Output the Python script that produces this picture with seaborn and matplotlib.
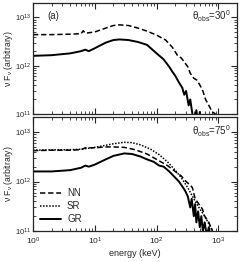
import numpy as np
import pandas as pd
import matplotlib
matplotlib.use("Agg")
import matplotlib.pyplot as plt
import seaborn as sns

# --- spectra (energy in keV, nuFnu in units of 1e12) ---
top_nn_e = [1, 2, 4, 6, 6.5, 7, 10, 15, 20, 25, 35, 50, 70, 100, 140, 180, 220, 250,
            280, 320, 350, 400, 450, 500, 560, 620, 700, 800, 900]
top_nn_f = [4.4, 4.4, 4.5, 4.6, 5.3, 4.7, 5.0, 6.0, 6.8, 7.0, 6.8, 6.0, 5.2, 4.3, 3.4,
            2.4, 1.6, 1.45, 1.2, 0.95, 0.7, 0.55, 0.5, 0.4, 0.3, 0.2, 0.15, 0.11, 0.1]

top_gr_e = [1, 2, 4, 6, 7, 8, 10, 15, 20, 25, 35, 50, 70, 100, 130, 160, 180, 200, 230,
            260, 280, 300, 330, 350, 380, 410, 440, 470, 500, 520]
top_gr_f = [1.6, 1.65, 1.8, 2.0, 2.15, 2.0, 2.3, 3.0, 3.4, 3.5, 3.4, 3.1, 2.7, 1.8, 1.35,
            0.95, 0.75, 0.62, 0.45, 0.35, 0.25, 0.3, 0.15, 0.2, 0.1, 0.07, 0.12, 0.06,
            0.11, 0.05]

bot_nn_e = [1, 2, 4, 6, 7, 10, 15, 20, 30, 45, 70, 100, 150, 200, 250, 300, 350, 380,
            420, 500, 550, 600, 700, 800]
bot_nn_f = [4.2, 4.3, 4.3, 4.4, 4.8, 4.8, 5.0, 5.0, 4.9, 4.4, 3.6, 2.8, 2.1, 1.6, 1.3,
            1.0, 0.85, 0.75, 0.45, 0.33, 0.28, 0.2, 0.15, 0.1]

bot_sr_e = [1, 4, 6, 10, 15, 20, 30, 40, 55, 80, 110, 150, 200, 250, 320, 400, 500,
            600, 700, 800]
bot_sr_f = [4.3, 4.4, 4.5, 4.9, 5.4, 5.8, 6.2, 6.1, 5.5, 4.5, 3.5, 2.5, 1.7, 1.2, 0.75,
            0.45, 0.28, 0.2, 0.14, 0.1]

bot_gr_e = [1, 2, 4, 6, 7, 8, 10, 15, 20, 30, 40, 55, 70, 90, 110, 130, 160, 200, 230,
            260, 290, 320, 350, 370, 400, 420, 440, 470, 500, 530, 560, 600, 650, 700, 750]
bot_gr_f = [1.6, 1.6, 1.7, 1.9, 2.1, 2.0, 2.2, 2.8, 3.3, 3.7, 3.6, 3.2, 2.8, 2.5, 2.1,
            2.0, 1.6, 1.2, 1.0, 0.8, 0.65, 0.5, 0.3, 0.45, 0.2, 0.35, 0.15, 0.25, 0.12,
            0.2, 0.1, 0.15, 0.08, 0.12, 0.07]

angles = ["30", "75"]

sns.set_style("ticks")
plt.rcParams['font.family'] = ['Liberation Sans', 'DejaVu Sans']
plt.rcParams['mathtext.fontset'] = 'custom'
plt.rcParams['mathtext.rm'] = 'Liberation Sans'
plt.rcParams['mathtext.it'] = 'Liberation Sans'

fig = plt.figure(figsize=(2.40, 2.62), dpi=100)
ax1 = fig.add_axes([0.1375, 0.565, 0.85, 0.424])
ax2 = fig.add_axes([0.1375, 0.118, 0.85, 0.435])

styles = {"NN": (0, (3.5, 1.8)), "SR": (0, (1, 1)), "GR": "-"}

def draw(ax, e, f, name):
    df = pd.DataFrame({"energy": e, "flux": np.array(f) * 1e12})
    sns.lineplot(data=df, x="energy", y="flux", ax=ax, color="black",
                 linestyle=styles[name], lw=1.4 if name == "GR" else 1.1,
                 label=name, sort=False)

draw(ax1, top_nn_e, top_nn_f, "NN")
draw(ax1, top_gr_e, top_gr_f, "GR")
draw(ax2, bot_nn_e, bot_nn_f, "NN")
draw(ax2, bot_sr_e, bot_sr_f, "SR")
draw(ax2, bot_gr_e, bot_gr_f, "GR")

for ax, ang in zip([ax1, ax2], angles):
    ax.set_xscale("log")
    ax.set_yscale("log")
    ax.set_xlim(1, 2000)
    ax.set_ylim(1e11, 2e13)
    ax.tick_params(which="both", direction="in", top=True, right=True,
                   labelsize=6)
    ax.tick_params(axis="x", pad=3.5)
    ax.tick_params(axis="y", labelsize=5.5, pad=1.5)
    ax.tick_params(which="major", length=4, width=0.8)
    ax.tick_params(which="minor", length=2, width=0.6)
    for s in ax.spines.values():
        s.set_linewidth(0.9)
    ax.set_ylabel(r"$\nu$ F$_\nu$ (arbitrary)", fontsize=6.2)
    ax.yaxis.set_label_coords(-0.09, 0.5)
    ax.text(0.97, 0.88, r"$\theta_{obs}$=" + ang + r"$^0$", transform=ax.transAxes,
            ha="right", va="center", fontsize=7)

ax1.get_legend().remove()
ax1.set_xlabel("")
ax1.tick_params(labelbottom=False)
ax1.text(0.1, 0.88, "(a)", transform=ax1.transAxes, ha="center", va="center", fontsize=7)

ax2.set_xlabel("energy (keV)", fontsize=6.5, labelpad=1)
ax2.legend(loc="lower left", frameon=False, fontsize=7, handlelength=2.2,
           labelspacing=0.3, borderaxespad=0.3, handletextpad=0.6)

fig.savefig("out.png", dpi=100)
